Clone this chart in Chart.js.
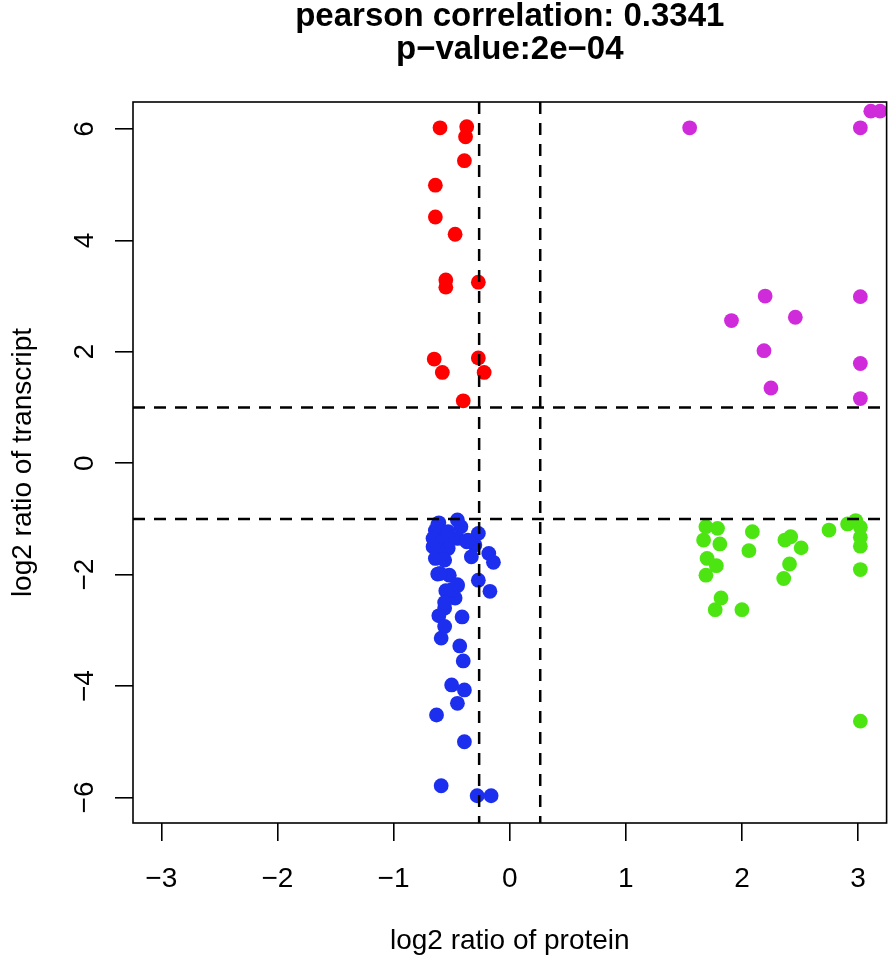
<!DOCTYPE html>
<html>
<head>
<meta charset="utf-8">
<script src="https://cdn.jsdelivr.net/npm/chart.js@4.4.0/dist/chart.umd.min.js"></script>
<style>
  html, body { margin: 0; padding: 0; background: #fff; overflow: hidden; }
  #wrap { width: 894px; height: 965px; }
</style>
</head>
<body>
<div id="wrap"><canvas id="myChart"></canvas></div>
<script>
// values (log2 protein ratio, log2 transcript ratio)
const redX = [-0.60, -0.37, -0.38, -0.39, -0.64, -0.64, -0.47, -0.55, -0.55, -0.27, -0.65, -0.58, -0.27, -0.22, -0.40];
const redY = [6.02, 6.04, 5.86, 5.43, 4.99, 4.42, 4.11, 3.29, 3.16, 3.25, 1.87, 1.63, 1.89, 1.63, 1.12];

const magentaX = [1.55, 3.02, 3.11, 3.19, 2.20, 3.02, 1.91, 2.46, 2.19, 3.02, 2.25, 3.02];
const magentaY = [6.02, 6.02, 6.32, 6.32, 3.00, 2.99, 2.56, 2.62, 2.02, 1.79, 1.35, 1.16];

const greenX = [1.69, 1.79, 1.67, 1.81, 1.70, 1.78, 1.69, 1.82, 1.77, 2.00, 2.09, 2.06, 2.37, 2.42, 2.51, 2.41, 2.36, 2.75, 2.91, 2.98, 3.02, 3.02, 3.02, 3.02, 3.02];
const greenY = [-1.14, -1.17, -1.38, -1.45, -1.71, -1.84, -2.01, -2.42, -2.63, -2.63, -1.23, -1.57, -1.38, -1.32, -1.52, -1.81, -2.07, -1.20, -1.09, -1.03, -1.15, -1.33, -1.49, -1.91, -4.63];

const blueX = [-0.61, -0.45, -0.42, -0.64, -0.56, -0.66, -0.59, -0.52, -0.45, -0.37, -0.27, -0.30, -0.53, -0.62, -0.33, -0.64, -0.18, -0.14, -0.56, -0.62, -0.52, -0.27, -0.17, -0.45, -0.55, -0.47, -0.56, -0.61, -0.41, -0.56, -0.59, -0.43, -0.40, -0.50, -0.39, -0.45, -0.63, -0.39, -0.59, -0.28, -0.16, -0.62, -0.53, -0.36, -0.66, -0.60, -0.50, -0.45, -0.56];
const blueY = [-1.07, -1.02, -1.14, -1.21, -1.26, -1.35, -1.41, -1.32, -1.35, -1.41, -1.26, -1.47, -1.53, -1.56, -1.68, -1.71, -1.62, -1.78, -1.74, -1.99, -2.01, -2.10, -2.30, -2.20, -2.29, -2.42, -2.60, -2.74, -2.76, -2.93, -3.14, -3.28, -3.55, -3.98, -4.07, -4.31, -4.52, -5.00, -5.79, -5.97, -5.97, -1.11, -1.23, -1.38, -1.50, -1.98, -2.27, -2.18, -2.50];

// cut-offs drawn as dashed lines
const proteinCutoffs = [-0.263, 0.263];
const transcriptCutoffs = [-1, 1];

const xTicks = [-3, -2, -1, 0, 1, 2, 3];
const yTicks = [-6, -4, -2, 0, 2, 4, 6];

const titleLines = ['pearson correlation: 0.3341', 'p\u2212value:2e\u221204'];
const xTitle = 'log2 ratio of protein';
const yTitle = 'log2 ratio of transcript';

function toPoints(xs, ys) {
  return xs.map((x, i) => ({ x: x, y: ys[i] }));
}

// box around the plot and dashed cut-off lines
const framePlugin = {
  id: 'frame',
  afterDatasetsDraw(chart) {
    const c = chart.ctx;
    const a = chart.chartArea;
    const xs = chart.scales.x;
    const ys = chart.scales.y;
    c.save();
    c.strokeStyle = '#000';
    c.lineWidth = 2.5;
    c.setLineDash([12, 9]);
    proteinCutoffs.forEach(v => {
      const px = xs.getPixelForValue(v);
      c.beginPath();
      c.moveTo(px, a.top);
      c.lineTo(px, a.bottom);
      c.stroke();
    });
    transcriptCutoffs.forEach(v => {
      const py = ys.getPixelForValue(v);
      c.beginPath();
      c.moveTo(a.left, py);
      c.lineTo(a.right, py);
      c.stroke();
    });
    c.setLineDash([]);
    c.lineWidth = 1.6;
    c.strokeRect(a.left, a.top, a.right - a.left, a.bottom - a.top);
    c.restore();
  }
};

const minus = v => String(v).replace('-', '\u2212');

// no extra room for edge labels, the plot box is placed by hand
function noEdgePadding(s) {
  s.paddingLeft = 0;
  s.paddingRight = 0;
  s.paddingTop = 0;
  s.paddingBottom = 0;
}

new Chart(document.getElementById('myChart'), {
  type: 'scatter',
  data: {
    datasets: [
      { data: toPoints(redX, redY), backgroundColor: '#FF0000' },
      { data: toPoints(magentaX, magentaY), backgroundColor: '#D02BDB' },
      { data: toPoints(greenX, greenY), backgroundColor: '#4DE512' },
      { data: toPoints(blueX, blueY), backgroundColor: '#1C2FEE' }
    ]
  },
  options: {
    animation: false,
    responsive: true,
    maintainAspectRatio: false,
    elements: {
      point: { radius: 7.4, hoverRadius: 7.4, borderWidth: 0 }
    },
    layout: { padding: { left: 0, right: 3, top: 0, bottom: 0 } },
    plugins: {
      legend: { display: false },
      tooltip: { enabled: false },
      title: {
        display: true,
        fullSize: false,
        text: titleLines,
        color: '#000',
        font: { family: 'Liberation Sans', size: 33, weight: 'bold', lineHeight: 1.0 },
        padding: { top: 0, bottom: 36 }
      }
    },
    scales: {
      x: {
        type: 'linear',
        min: -3.244,
        max: 3.246,
        afterBuildTicks: s => { s.ticks = xTicks.map(v => ({ value: v })); },
        afterFit: s => { s.height = 142; noEdgePadding(s); },
        border: { display: false },
        grid: { drawOnChartArea: false, drawTicks: true, tickLength: 18, tickColor: '#000', lineWidth: 1.6 },
        ticks: {
          color: '#000',
          padding: 6,
          font: { family: 'Liberation Sans', size: 28, lineHeight: 2.3 },
          callback: v => minus(v)
        },
        title: {
          display: true,
          text: xTitle,
          color: '#000',
          font: { family: 'Liberation Sans', size: 28 },
          padding: { top: 0, bottom: 7 }
        }
      },
      y: {
        type: 'linear',
        min: -6.459,
        max: 6.484,
        afterBuildTicks: s => { s.ticks = yTicks.map(v => ({ value: v })); },
        afterFit: s => { s.width = 133; noEdgePadding(s); },
        border: { display: false },
        grid: { drawOnChartArea: false, drawTicks: true, tickLength: 18, tickColor: '#000', lineWidth: 1.6 },
        ticks: {
          color: '#000',
          padding: 14,
          minRotation: 90,
          maxRotation: 90,
          crossAlign: 'center',
          font: { family: 'Liberation Sans', size: 28 },
          callback: v => minus(v)
        },
        title: {
          display: true,
          text: yTitle,
          color: '#000',
          font: { family: 'Liberation Sans', size: 28 },
          padding: { top: 6, bottom: 0 }
        }
      }
    }
  },
  plugins: [framePlugin]
});
</script>
</body>
</html>
